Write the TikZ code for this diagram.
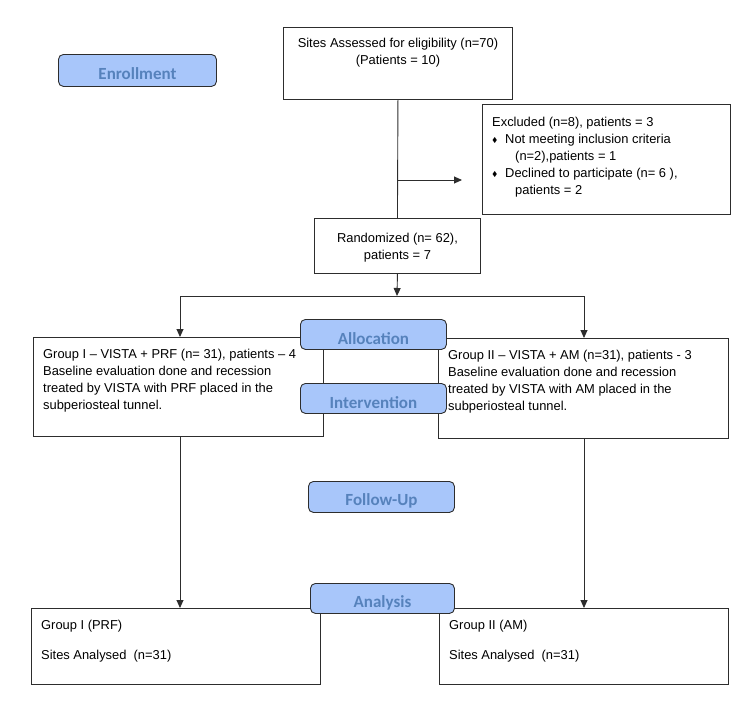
\documentclass[tikz,border=0pt]{standalone}
\usepackage{fontspec}
\usepackage{amssymb}
\setmainfont{Liberation Sans}
\newfontfamily\stagefont{Carlito}
\usetikzlibrary{arrows.meta,positioning,calc}
\definecolor{stagefill}{RGB}{168,198,250}
\definecolor{stagetext}{RGB}{86,130,188}
\definecolor{boxline}{RGB}{45,45,45}
\newcommand{\exbullet}{\makebox[13pt][l]{\raisebox{1pt}{\scriptsize$\blacklozenge$}}}

\begin{document}
\begin{tikzpicture}[
  x=1pt, y=-1pt,
  every node/.style={font=\fontsize{12.9}{17}\selectfont, inner sep=0pt},
  flowbox/.style={rectangle, draw=boxline, line width=0.9pt, fill=white, anchor=north west},
  stagebox/.style={rectangle, draw=boxline, line width=0.9pt, fill=stagefill,
                   rounded corners=5pt, anchor=north west},
  stagelabel/.style={font=\stagefont\bfseries\fontsize{17}{17}\selectfont, text=stagetext},
  flowline/.style={draw=boxline, line width=0.9pt},
  flowarrow/.style={flowline, -{Triangle[length=8pt,width=7pt]}}
]
\useasboundingbox (0,0) rectangle (750,704);

% boxes of the flow
\node[flowbox, minimum width=229pt, minimum height=72pt] (sites) at (283,27) {};
\node[align=center] (sitestxt) at ($(sites.north)+(0,26)$)
      {Sites Assessed for eligibility (n=70)\\(Patients = 10)};

\node[flowbox, minimum width=248pt, minimum height=110pt] (excl) at (482,104) {};
\node[align=left, anchor=west] (excltxt) at (492,157)
      {Excluded (n=8), patients = 3\\
       \exbullet Not meeting inclusion criteria\\
       \hspace*{23pt}(n=2),patients = 1\\
       \exbullet Declined to participate (n= 6 ),\\
       \hspace*{23pt}patients = 2};

\node[flowbox, minimum width=166pt, minimum height=55pt] (rand) at (314,218) {};
\node[align=center] (randtxt) at ($(rand.north)+(0,30)$)
      {Randomized (n= 62),\\patients = 7};

\node[flowbox, minimum width=290pt, minimum height=99pt] (grpone) at (33,337) {};
\node[align=left, anchor=west] (grponetxt) at (43,381)
      {Group I -- VISTA + PRF (n= 31), patients -- 4\\
       Baseline evaluation done and recession\\
       treated by VISTA with PRF placed in the\\
       subperiosteal tunnel.};

\node[flowbox, minimum width=290pt, minimum height=100pt] (grptwo) at (438,338) {};
\node[align=left, anchor=west] (grptwotxt) at (448,382)
      {Group II -- VISTA + AM (n=31), patients - 3\\
       Baseline evaluation done and recession\\
       treated by VISTA with AM placed in the\\
       subperiosteal tunnel.};

\node[flowbox, minimum width=289pt, minimum height=76pt] (resone) at (31,608) {};
\node[align=left, anchor=west] (resonetxt) at (41,641)
      {Group I (PRF)\\[13pt]Sites Analysed~ (n=31)};

\node[flowbox, minimum width=289pt, minimum height=76pt] (restwo) at (439,608) {};
\node[align=left, anchor=west] (restwotxt) at (449,641)
      {Group II (AM)\\[13pt]Sites Analysed~ (n=31)};

% connectors
\coordinate (exarrow) at (462,180);
\coordinate (split) at (397,296);
\coordinate (splitl) at (180,296);
\coordinate (splitr) at (584,296);
\draw[flowline] (sites.south) -- (rand.north);
\draw[flowarrow] (sites.south |- exarrow) -- (exarrow);
\draw[flowarrow] (rand.south) -- (split);
\draw[flowline] (splitl) -- (splitr);
\draw[flowarrow] (splitl) -- (splitl |- grpone.north);
\draw[flowarrow] (splitr) -- (splitr |- grptwo.north);
\draw[flowarrow] (splitl |- grpone.south) -- (splitl |- resone.north);
\draw[flowarrow] (splitr |- grptwo.south) -- (splitr |- restwo.north);

% stage labels
\node[stagebox, minimum width=158pt, minimum height=32pt] (enroll) at (58,54) {};
\node[stagelabel] at ($(enroll.center)+(0,3)$) {Enrollment};
\node[stagebox, minimum width=146pt, minimum height=30pt] (alloc) at (300,319) {};
\node[stagelabel] at ($(alloc.center)+(0,4)$) {Allocation};
\node[stagebox, minimum width=146pt, minimum height=30pt] (interv) at (300,383) {};
\node[stagelabel] at ($(interv.center)+(0,4)$) {Intervention};
\node[stagebox, minimum width=146pt, minimum height=31pt] (follow) at (308,481) {};
\node[stagelabel] at ($(follow.center)+(0,4)$) {Follow-Up};
\node[stagebox, minimum width=144pt, minimum height=30pt] (analysis) at (310,583) {};
\node[stagelabel] at ($(analysis.center)+(0,4)$) {Analysis};
\end{tikzpicture}
\end{document}
